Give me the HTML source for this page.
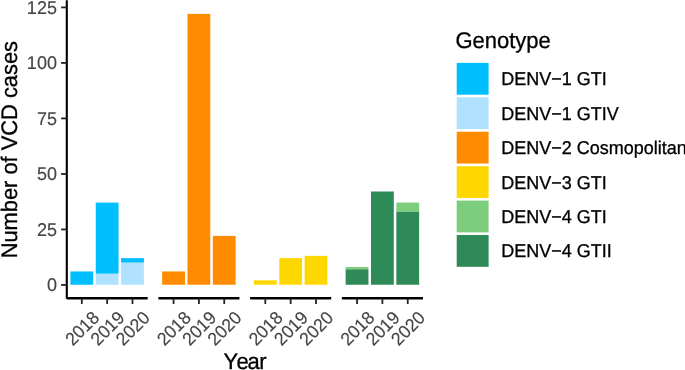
<!DOCTYPE html><html><head><meta charset="utf-8"><title>VCD cases by genotype</title><style>html,body{margin:0;padding:0;background:#fff;overflow:hidden;}svg{display:block;will-change:transform;}text{font-family:"Liberation Sans",sans-serif;}</style></head><body>
<svg width="685" height="370" viewBox="0 0 685 370" text-rendering="geometricPrecision">
<rect x="0" y="0" width="685" height="370" fill="#fff"/>
<rect x="70.40" y="271.43" width="22.81" height="13.32" fill="#00BFFF"/>
<rect x="95.75" y="273.65" width="22.81" height="11.10" fill="#B0E2FF"/>
<rect x="95.75" y="202.60" width="22.81" height="71.05" fill="#00BFFF"/>
<rect x="121.09" y="262.55" width="22.81" height="22.20" fill="#B0E2FF"/>
<rect x="121.09" y="258.11" width="22.81" height="4.44" fill="#00BFFF"/>
<line x1="66.80" y1="298.25" x2="147.70" y2="298.25" stroke="#000" stroke-width="2.3" stroke-linecap="butt"/>
<line x1="81.81" y1="298.25" x2="81.81" y2="303.95" stroke="#222222" stroke-width="1.8"/>
<line x1="107.15" y1="298.25" x2="107.15" y2="303.95" stroke="#222222" stroke-width="1.8"/>
<line x1="132.49" y1="298.25" x2="132.49" y2="303.95" stroke="#222222" stroke-width="1.8"/>
<rect x="162.15" y="271.43" width="22.81" height="13.32" fill="#FF8C00"/>
<rect x="187.50" y="13.87" width="22.81" height="270.88" fill="#FF8C00"/>
<rect x="212.84" y="235.90" width="22.81" height="48.85" fill="#FF8C00"/>
<line x1="158.35" y1="298.25" x2="239.45" y2="298.25" stroke="#000" stroke-width="2.3" stroke-linecap="butt"/>
<line x1="173.56" y1="298.25" x2="173.56" y2="303.95" stroke="#222222" stroke-width="1.8"/>
<line x1="198.90" y1="298.25" x2="198.90" y2="303.95" stroke="#222222" stroke-width="1.8"/>
<line x1="224.24" y1="298.25" x2="224.24" y2="303.95" stroke="#222222" stroke-width="1.8"/>
<rect x="253.90" y="280.31" width="22.81" height="4.44" fill="#FFD700"/>
<rect x="279.25" y="258.11" width="22.81" height="26.64" fill="#FFD700"/>
<rect x="304.59" y="255.89" width="22.81" height="28.86" fill="#FFD700"/>
<line x1="250.10" y1="298.25" x2="331.20" y2="298.25" stroke="#000" stroke-width="2.3" stroke-linecap="butt"/>
<line x1="265.31" y1="298.25" x2="265.31" y2="303.95" stroke="#222222" stroke-width="1.8"/>
<line x1="290.65" y1="298.25" x2="290.65" y2="303.95" stroke="#222222" stroke-width="1.8"/>
<line x1="315.99" y1="298.25" x2="315.99" y2="303.95" stroke="#222222" stroke-width="1.8"/>
<rect x="345.65" y="269.21" width="22.81" height="15.54" fill="#2E8B57"/>
<rect x="345.65" y="266.99" width="22.81" height="2.22" fill="#7CCD7C"/>
<rect x="371.00" y="191.50" width="22.81" height="93.25" fill="#2E8B57"/>
<rect x="396.34" y="211.48" width="22.81" height="73.27" fill="#2E8B57"/>
<rect x="396.34" y="202.60" width="22.81" height="8.88" fill="#7CCD7C"/>
<line x1="341.85" y1="298.25" x2="422.95" y2="298.25" stroke="#000" stroke-width="2.3" stroke-linecap="butt"/>
<line x1="357.06" y1="298.25" x2="357.06" y2="303.95" stroke="#222222" stroke-width="1.8"/>
<line x1="382.40" y1="298.25" x2="382.40" y2="303.95" stroke="#222222" stroke-width="1.8"/>
<line x1="407.74" y1="298.25" x2="407.74" y2="303.95" stroke="#222222" stroke-width="1.8"/>
<line x1="66.80" y1="0.30" x2="66.80" y2="298.75" stroke="#000" stroke-width="2.1"/>
<line x1="61.10" y1="284.95" x2="66.80" y2="284.95" stroke="#222222" stroke-width="1.8"/>
<text transform="translate(0,291.35) scale(1,1.03)" x="46.89" y="0" font-size="18.0" fill="#454545" stroke="#454545" stroke-width="0.15">0</text>
<line x1="61.10" y1="229.44" x2="66.80" y2="229.44" stroke="#222222" stroke-width="1.8"/>
<text transform="translate(0,235.84) scale(1,1.03)" x="36.88 46.89" y="0" font-size="18.0" fill="#454545" stroke="#454545" stroke-width="0.15">25</text>
<line x1="61.10" y1="173.94" x2="66.80" y2="173.94" stroke="#222222" stroke-width="1.8"/>
<text transform="translate(0,180.34) scale(1,1.03)" x="36.88 46.89" y="0" font-size="18.0" fill="#454545" stroke="#454545" stroke-width="0.15">50</text>
<line x1="61.10" y1="118.43" x2="66.80" y2="118.43" stroke="#222222" stroke-width="1.8"/>
<text transform="translate(0,124.83) scale(1,1.03)" x="36.88 46.89" y="0" font-size="18.0" fill="#454545" stroke="#454545" stroke-width="0.15">75</text>
<line x1="61.10" y1="62.92" x2="66.80" y2="62.92" stroke="#222222" stroke-width="1.8"/>
<text transform="translate(0,69.32) scale(1,1.03)" x="26.87 36.88 46.89" y="0" font-size="18.0" fill="#454545" stroke="#454545" stroke-width="0.15">100</text>
<line x1="61.10" y1="7.41" x2="66.80" y2="7.41" stroke="#222222" stroke-width="1.8"/>
<text transform="translate(0,13.81) scale(1,1.03)" x="26.87 36.88 46.89" y="0" font-size="18.0" fill="#454545" stroke="#454545" stroke-width="0.15">125</text>
<text transform="translate(82.11,328.3) rotate(-45) translate(0,6.20) scale(1,1.03)" x="-19.58 -9.79 0.00 9.79" y="0" font-size="17.6" fill="#454545" stroke="#454545" stroke-width="0.15">2018</text>
<text transform="translate(107.45,328.3) rotate(-45) translate(0,6.20) scale(1,1.03)" x="-19.58 -9.79 0.00 9.79" y="0" font-size="17.6" fill="#454545" stroke="#454545" stroke-width="0.15">2019</text>
<text transform="translate(132.79,328.3) rotate(-45) translate(0,6.20) scale(1,1.03)" x="-19.58 -9.79 0.00 9.79" y="0" font-size="17.6" fill="#454545" stroke="#454545" stroke-width="0.15">2020</text>
<text transform="translate(173.86,328.3) rotate(-45) translate(0,6.20) scale(1,1.03)" x="-19.58 -9.79 0.00 9.79" y="0" font-size="17.6" fill="#454545" stroke="#454545" stroke-width="0.15">2018</text>
<text transform="translate(199.20,328.3) rotate(-45) translate(0,6.20) scale(1,1.03)" x="-19.58 -9.79 0.00 9.79" y="0" font-size="17.6" fill="#454545" stroke="#454545" stroke-width="0.15">2019</text>
<text transform="translate(224.54,328.3) rotate(-45) translate(0,6.20) scale(1,1.03)" x="-19.58 -9.79 0.00 9.79" y="0" font-size="17.6" fill="#454545" stroke="#454545" stroke-width="0.15">2020</text>
<text transform="translate(265.61,328.3) rotate(-45) translate(0,6.20) scale(1,1.03)" x="-19.58 -9.79 0.00 9.79" y="0" font-size="17.6" fill="#454545" stroke="#454545" stroke-width="0.15">2018</text>
<text transform="translate(290.95,328.3) rotate(-45) translate(0,6.20) scale(1,1.03)" x="-19.58 -9.79 0.00 9.79" y="0" font-size="17.6" fill="#454545" stroke="#454545" stroke-width="0.15">2019</text>
<text transform="translate(316.29,328.3) rotate(-45) translate(0,6.20) scale(1,1.03)" x="-19.58 -9.79 0.00 9.79" y="0" font-size="17.6" fill="#454545" stroke="#454545" stroke-width="0.15">2020</text>
<text transform="translate(357.36,328.3) rotate(-45) translate(0,6.20) scale(1,1.03)" x="-19.58 -9.79 0.00 9.79" y="0" font-size="17.6" fill="#454545" stroke="#454545" stroke-width="0.15">2018</text>
<text transform="translate(382.70,328.3) rotate(-45) translate(0,6.20) scale(1,1.03)" x="-19.58 -9.79 0.00 9.79" y="0" font-size="17.6" fill="#454545" stroke="#454545" stroke-width="0.15">2019</text>
<text transform="translate(408.04,328.3) rotate(-45) translate(0,6.20) scale(1,1.03)" x="-19.58 -9.79 0.00 9.79" y="0" font-size="17.6" fill="#454545" stroke="#454545" stroke-width="0.15">2020</text>
<text transform="translate(0,368.90) scale(1,1.03)" x="223.51 236.49 247.62 259.16" y="0" font-size="22.0" fill="#000" stroke="#000" stroke-width="0.3">Year</text>
<text transform="translate(16.9,149.7) rotate(-90) translate(0,0.00) scale(1,1.03)" x="-108.68 -92.90 -80.75 -62.55 -50.39 -38.24 -30.97 -24.90 -12.74 -6.67 -0.60 13.97 29.75 45.53 51.60 62.53 74.68 85.60 97.75" y="0" font-size="21.85" fill="#000" stroke="#000" stroke-width="0.3">Number of VCD cases</text>
<text transform="translate(0,47.80) scale(1,1.03)" x="455.40 472.51 484.75 496.98 509.22 515.33 526.33 538.57" y="0" font-size="22.0" fill="#000" stroke="#000" stroke-width="0.3">Genotype</text>
<rect x="456.7" y="62.90" width="31.9" height="31.8" fill="#00BFFF"/>
<text transform="translate(0,85.30) scale(1,1.03)" x="501.20 514.20 526.20 539.20 551.21 561.72 571.73 576.73 590.73 601.73" y="0" font-size="18.0" fill="#000" stroke="#000" stroke-width="0.3">DENV−1 GTI</text>
<rect x="456.7" y="97.32" width="31.9" height="31.8" fill="#B0E2FF"/>
<text transform="translate(0,119.72) scale(1,1.03)" x="501.20 514.20 526.20 539.20 551.21 561.72 571.73 576.73 590.73 601.73 606.73" y="0" font-size="18.0" fill="#000" stroke="#000" stroke-width="0.3">DENV−1 GTIV</text>
<rect x="456.7" y="131.74" width="31.9" height="31.8" fill="#FF8C00"/>
<text transform="translate(0,154.14) scale(1,1.03)" x="501.20 514.20 526.20 539.20 551.21 561.72 571.73 576.73 589.73 599.74 608.74 623.74 633.75 643.76 653.77 657.77 661.77 666.77 676.78" y="0" font-size="18.0" fill="#000" stroke="#000" stroke-width="0.3">DENV−2 Cosmopolitan</text>
<rect x="456.7" y="166.16" width="31.9" height="31.8" fill="#FFD700"/>
<text transform="translate(0,188.56) scale(1,1.03)" x="501.20 514.20 526.20 539.20 551.21 561.72 571.73 576.73 590.73 601.73" y="0" font-size="18.0" fill="#000" stroke="#000" stroke-width="0.3">DENV−3 GTI</text>
<rect x="456.7" y="200.58" width="31.9" height="31.8" fill="#7CCD7C"/>
<text transform="translate(0,222.98) scale(1,1.03)" x="501.20 514.20 526.20 539.20 551.21 561.72 571.73 576.73 590.73 601.73" y="0" font-size="18.0" fill="#000" stroke="#000" stroke-width="0.3">DENV−4 GTI</text>
<rect x="456.7" y="235.00" width="31.9" height="31.8" fill="#2E8B57"/>
<text transform="translate(0,257.40) scale(1,1.03)" x="501.20 514.20 526.20 539.20 551.21 561.72 571.73 576.73 590.73 601.73 606.73" y="0" font-size="18.0" fill="#000" stroke="#000" stroke-width="0.3">DENV−4 GTII</text>
</svg></body></html>
